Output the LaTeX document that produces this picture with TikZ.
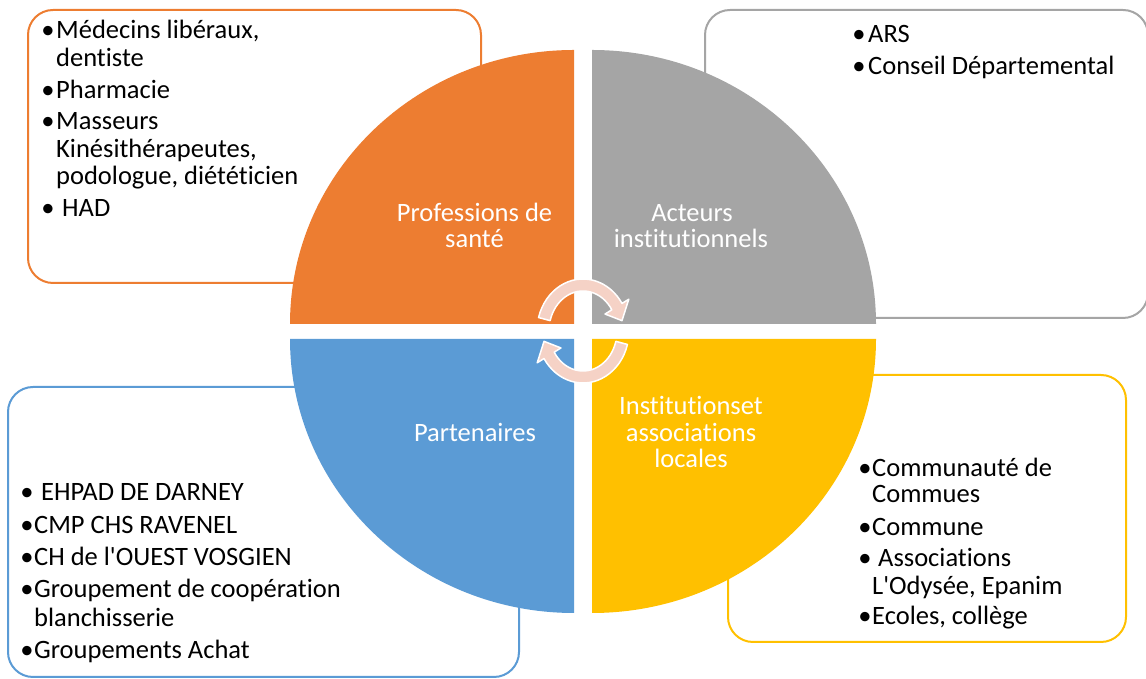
\documentclass[tikz,border=0pt]{standalone}
\usepackage{fontspec}
\setmainfont{Carlito}[Ligatures={TeXOff,NoCommon}]
\usetikzlibrary{calc}
\definecolor{qorange}{HTML}{ED7D31}
\definecolor{qgray}{HTML}{A5A5A5}
\definecolor{qblue}{HTML}{5B9BD5}
\definecolor{qyellow}{HTML}{FFC000}
\definecolor{arrowpink}{RGB}{245,210,198}
\begin{document}
\begin{tikzpicture}[x=1pt,y=1pt,
  font=\fontsize{26.5}{28}\selectfont,
  boxtxt/.style={anchor=base west, inner sep=0pt, text=black},
  bul/.style={anchor=base, inner sep=0pt, text=black},
  qlabel/.style={anchor=base, inner sep=0pt, text=white},
  listbox/.style={line width=2pt, rounded corners=25pt, fill=white},
  arrowst/.style={fill=arrowpink, draw=white, line width=1.5pt, line join=round}]
\useasboundingbox (0,0) rectangle (1146,679);

% list boxes
\draw[listbox, draw=qorange] (28,396) rectangle (481,669);
\draw[listbox, draw=qgray] (705,361) rectangle (1148,669);
\draw[listbox, draw=qblue] (8,2) rectangle (519,292);
\draw[listbox, draw=qyellow] (728,37) rectangle (1126,304);

% quadrants
\fill[qorange] (574,355) -- (290,355) arc[start angle=180, end angle=90, x radius=284, y radius=274] -- cycle;
\fill[qgray] (592,355) -- (592,629) arc[start angle=90, end angle=0, x radius=284, y radius=274] -- cycle;
\fill[qblue] (574,340) -- (574,66) arc[start angle=270, end angle=180, x radius=284, y radius=274] -- cycle;
\fill[qyellow] (592,340) -- (876,340) arc[start angle=0, end angle=-90, x radius=284, y radius=274] -- cycle;

% circular arrows
\coordinate (C) at (583,348);
\filldraw[arrowst] ($(C)+(165:46 and 52)$) arc[start angle=165, end angle=32, x radius=46, y radius=52]
  -- ($(C)+(32:54 and 60)$) -- ($(C)+(13:40 and 46)$) -- ($(C)+(32:26 and 32)$)
  -- ($(C)+(32:34 and 40)$) arc[start angle=32, end angle=165, x radius=34, y radius=40] -- cycle;
\filldraw[arrowst] ($(C)+(345:46 and 52)$) arc[start angle=345, end angle=212, x radius=46, y radius=52]
  -- ($(C)+(212:54 and 60)$) -- ($(C)+(193:40 and 46)$) -- ($(C)+(212:26 and 32)$)
  -- ($(C)+(212:34 and 40)$) arc[start angle=212, end angle=345, x radius=34, y radius=40] -- cycle;

% quadrant labels
\node[qlabel] (l1a) at (474.5,457) {Professions de};
\node[qlabel] (l1b) at (474.5,431) {santé};
\node[qlabel] (l2a) at (692,457) {Acteurs};
\node[qlabel] (l2b) at (691,431) {institutionnels};
\node[qlabel] (l3a) at (475,237) {Partenaires};
\node[qlabel] (l4a) at (691,264) {Institutionset};
\node[qlabel] (l4b) at (691,237) {associations};
\node[qlabel] (l4c) at (691,211) {locales};

% orange list
\node[bul] (ob1) at (48,640) {•};
\node[boxtxt] (ot1) at (56,640) {Médecins libéraux,};
\node[boxtxt] (ot1b) at (56,612) {dentiste};
\node[bul] (ob2) at (48,580) {•};
\node[boxtxt] (ot2) at (56,580) {Pharmacie};
\node[bul] (ob3) at (48,549) {•};
\node[boxtxt] (ot3) at (56,549) {Masseurs};
\node[boxtxt] (ot3b) at (56,521) {Kinésithérapeutes,};
\node[boxtxt] (ot3c) at (56,494) {podologue, diététicien};
\node[bul] (ob4) at (48,462) {•};
\node[boxtxt] (ot4) at (62,462) {HAD};

% gray list
\node[bul] (gb1) at (859,636) {•};
\node[boxtxt] (gt1) at (868,636) {ARS};
\node[bul] (gb2) at (859,604) {•};
\node[boxtxt] (gt2) at (868,604) {Conseil Départemental};

% blue list
\node[bul] (bb1) at (27,178) {•};
\node[boxtxt] (bt1) at (41,178) {EHPAD DE DARNEY};
\node[bul] (bb2) at (27,145) {•};
\node[boxtxt] (bt2) at (34,145) {CMP CHS RAVENEL};
\node[bul] (bb3) at (27,113) {•};
\node[boxtxt] (bt3) at (34,113) {CH de l'OUEST VOSGIEN};
\node[bul] (bb4) at (27,81) {•};
\node[boxtxt] (bt4) at (34,81) {Groupement de coopération};
\node[boxtxt] (bt4b) at (34,52) {blanchisserie};
\node[bul] (bb5) at (27,20) {•};
\node[boxtxt] (bt5) at (34,20) {Groupements Achat};

% yellow list
\node[bul] (yb1) at (865,202) {•};
\node[boxtxt] (yt1) at (872,202) {Communauté de};
\node[boxtxt] (yt1b) at (872,176) {Commues};
\node[bul] (yb2) at (865,143) {•};
\node[boxtxt] (yt2) at (872,143) {Commune};
\node[bul] (yb3) at (865,112) {•};
\node[boxtxt] (yt3) at (878,112) {Associations};
\node[boxtxt] (yt3b) at (872,84) {L'Odysée, Epanim};
\node[bul] (yb4) at (865,54) {•};
\node[boxtxt] (yt4) at (872,54) {Ecoles, collège};
\end{tikzpicture}
\end{document}
